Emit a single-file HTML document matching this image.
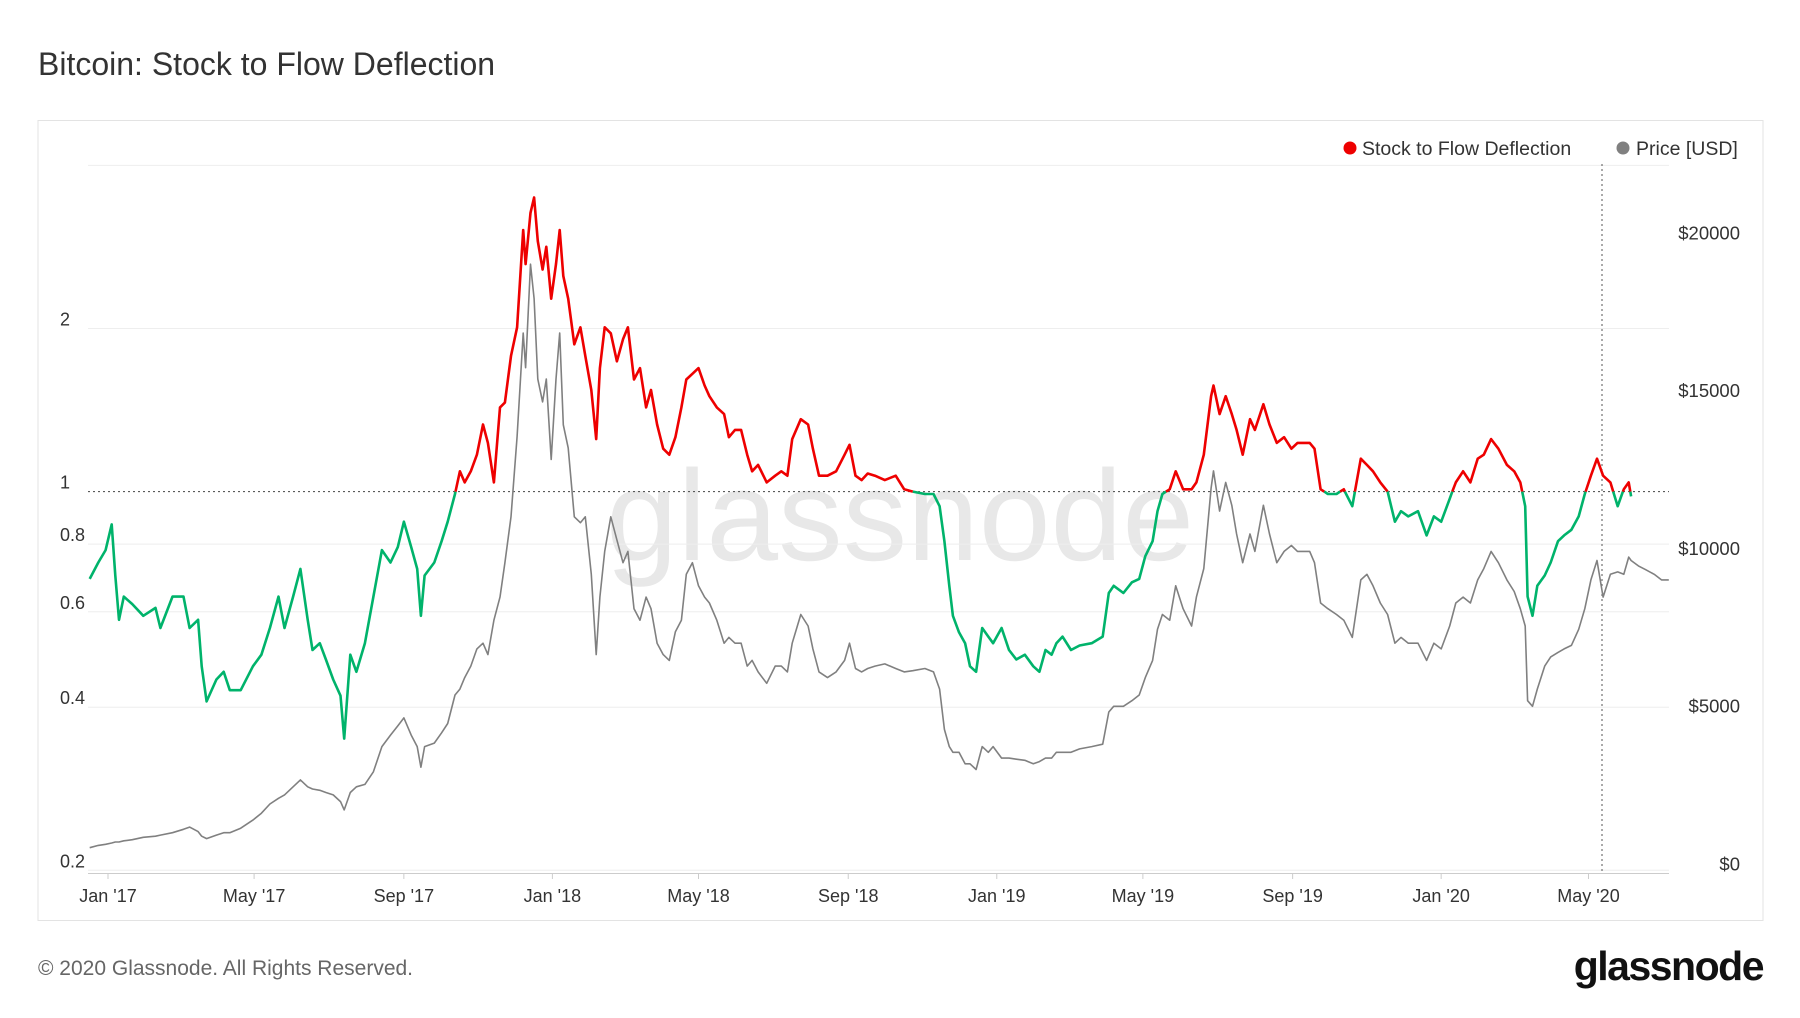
<!DOCTYPE html>
<html><head><meta charset="utf-8"><style>
body{margin:0;background:#fff;width:1800px;height:1013px;overflow:hidden;font-family:"Liberation Sans",sans-serif;}
</style></head><body>
<svg width="1800" height="1013" xmlns="http://www.w3.org/2000/svg">
<text x="38" y="75" font-size="32" fill="#333">Bitcoin: Stock to Flow Deflection</text>
<rect x="38" y="120.5" width="1725" height="800" fill="none" stroke="#e3e3e3"/>
<text x="900" y="560" font-size="129" fill="#e8e8e8" text-anchor="middle">glassnode</text>
<g id="grid"></g>
<g id="yl"></g>
<g id="yr"></g>
<g id="xa"></g>
<line x1="1602" y1="164" x2="1602" y2="873" stroke="#555" stroke-dasharray="2,3"/>
<g id="price"></g>
<g id="defl"></g>
<g>
<circle cx="1350" cy="148" r="6.5" fill="#ee0000"/>
<text x="1362" y="155" font-size="19.5" fill="#333">Stock to Flow Deflection</text>
<circle cx="1623" cy="148" r="6.5" fill="#808080"/>
<text x="1636" y="155" font-size="19.5" fill="#333">Price [USD]</text>
</g>
<text x="38" y="975" font-size="21" fill="#666">© 2020 Glassnode. All Rights Reserved.</text>
<text x="1763" y="980" font-size="41" font-weight="bold" fill="#111" text-anchor="end" letter-spacing="-1.5">glassnode</text>
</svg>
<script>
const days=[-15,-8,-2,3,6,9,13,20,29,39,43,53,62,67,74,77,81,89,95,100,109,119,126,133,140,145,152,158,164,168,174,179,185,191,194,199,204,211,218,225,232,238,243,249,254,257,260,268,274,279,285,289,293,298,303,308,312,317,322,326,331,336,341,343,347,350,353,357,360,364,368,371,374,378,383,388,392,397,401,404,408,413,418,423,427,432,437,442,446,451,456,461,466,471,475,480,485,490,494,500,506,510,515,520,525,529,534,541,548,553,558,562,569,575,579,584,591,598,605,609,614,619,624,630,638,647,654,661,671,678,683,687,691,694,699,704,708,713,718,723,727,734,740,746,753,760,765,770,775,779,784,791,798,808,817,822,826,834,841,847,852,858,862,866,872,877,883,890,894,900,906,908,913,918,923,927,932,938,942,949,954,960,966,972,977,987,991,996,1002,1009,1015,1022,1029,1034,1039,1045,1051,1057,1062,1068,1076,1083,1089,1095,1102,1107,1113,1119,1125,1130,1136,1142,1149,1155,1160,1164,1166,1170,1174,1180,1185,1191,1196,1202,1208,1213,1218,1223,1228,1234,1240,1245,1249,1251];
const deflection=[.69,.74,.78,.87,.70,.58,.64,.62,.59,.61,.56,.64,.64,.56,.58,.476,.41,.45,.465,.43,.43,.476,.50,.56,.64,.56,.64,.72,.58,.51,.525,.49,.45,.42,.35,.50,.465,.525,.64,.78,.74,.79,.88,.79,.72,.59,.70,.74,.81,.88,.99,1.09,1.04,1.09,1.17,1.33,1.23,1.04,1.43,1.46,1.78,2.01,3.04,2.63,3.27,3.49,2.90,2.57,2.83,2.27,2.63,3.04,2.50,2.27,1.87,2.01,1.78,1.54,1.25,1.69,2.01,1.96,1.74,1.91,2.01,1.61,1.69,1.43,1.54,1.33,1.20,1.17,1.26,1.43,1.61,1.65,1.69,1.57,1.50,1.43,1.39,1.26,1.30,1.30,1.17,1.09,1.12,1.04,1.07,1.09,1.07,1.25,1.36,1.33,1.20,1.07,1.07,1.09,1.17,1.22,1.07,1.05,1.08,1.07,1.05,1.07,1.01,1.0,.99,.99,.94,.81,.67,.59,.55,.525,.476,.465,.56,.54,.525,.56,.51,.49,.50,.476,.465,.51,.50,.525,.54,.51,.52,.525,.54,.65,.67,.65,.68,.69,.76,.81,.92,.99,1.01,1.09,1.01,1.01,1.04,1.17,1.50,1.57,1.39,1.50,1.39,1.30,1.17,1.36,1.30,1.45,1.33,1.23,1.26,1.20,1.23,1.23,1.20,1.01,.99,.99,1.01,.94,1.15,1.12,1.09,1.04,1.0,.88,.92,.90,.92,.83,.90,.88,.97,1.04,1.09,1.04,1.15,1.17,1.25,1.20,1.12,1.09,1.04,.94,.64,.59,.67,.70,.74,.81,.83,.85,.90,.99,1.07,1.15,1.07,1.04,.94,1.01,1.04,.98];
const price=[690,765,800,840,870,870,910,945,1020,1055,1090,1165,1275,1345,1200,1055,980,1090,1165,1165,1310,1565,1785,2075,2255,2365,2620,2840,2620,2550,2510,2440,2365,2150,1890,2440,2620,2695,3095,3895,4260,4550,4805,4260,3895,3240,3895,4005,4330,4625,5530,5715,6080,6445,6990,7170,6810,7900,8630,9720,11175,13720,17000,15900,19180,18090,15540,14815,15540,12995,15540,17000,14090,13360,11175,10990,11175,9355,6810,8630,10080,11175,10445,9720,10080,8265,7900,8630,8265,7170,6810,6625,7535,7900,9355,9720,8990,8630,8445,7900,7170,7355,7170,7170,6445,6625,6260,5900,6445,6445,6260,7170,8080,7715,6990,6260,6080,6260,6625,7170,6370,6260,6370,6445,6515,6370,6260,6300,6370,6260,5715,4440,3895,3715,3715,3350,3350,3170,3895,3715,3895,3530,3530,3495,3460,3350,3420,3530,3530,3715,3715,3715,3820,3895,3970,4990,5170,5170,5350,5530,6080,6625,7610,8080,7900,8990,8265,7715,8630,9535,12085,12630,11355,12265,11540,10630,9720,10630,10080,11540,10630,9720,10080,10265,10080,10080,9720,8445,8265,8080,7900,7355,9175,9355,8990,8445,8080,7170,7355,7170,7170,6625,7170,6990,7715,8445,8630,8445,9175,9535,10080,9720,9175,8810,8265,7715,5350,5170,5715,6445,6735,6880,6990,7100,7610,8265,9175,9790,8630,9355,9430,9355,9900,9790];
const tailDays=[1257,1263,1270,1276,1282];
const tailPrice=[9620,9500,9355,9175,9175];
const leftTicks=[0.2,0.4,0.6,0.8,1,2];
const rightTicks=[0,5000,10000,15000,20000];
const monthLabels=["Jan '17","May '17","Sep '17","Jan '18","May '18","Sep '18","Jan '19","May '19","Sep '19","Jan '20","May '20"];
const monthDays=[0,120,243,365,485,608,730,850,973,1095,1216];

const NS="http://www.w3.org/2000/svg";
const X=d=>108.0+d*1.2175;
const YL=v=>491.6-163.1*Math.log2(v);
const YR=p=>869.5-p*0.03156;
function mk(tag,attrs,parent){const e=document.createElementNS(NS,tag);for(const k in attrs)e.setAttribute(k,attrs[k]);parent.appendChild(e);return e;}
const grid=document.getElementById('grid'),yl=document.getElementById('yl'),yr=document.getElementById('yr'),xa=document.getElementById('xa');
[4].concat(leftTicks).forEach(v=>{
  const g=mk('line',{x1:88,x2:1669,y1:YL(v),y2:YL(v),stroke:v===1?'#444':'#eeeeee','stroke-dasharray':v===1?'2,3':'none'},grid);
  
  
});
leftTicks.forEach(v=>{
  const t=mk('text',{x:60,y:YL(v)-3,'font-size':18,fill:'#333'},yl);t.textContent=String(v);
  
  
});
rightTicks.forEach(v=>{
  const t=mk('text',{x:1740,y:YR(v)+1,'font-size':18.5,fill:'#333','text-anchor':'end'},yr);t.textContent='$'+v;
  
  
});
mk('line',{x1:88,x2:1669,y1:873.5,y2:873.5,stroke:'#ccc'},xa);
monthLabels.forEach((m,i)=>{
  const x=X(monthDays[i]);
  mk('line',{x1:x,x2:x,y1:873,y2:879,stroke:'#ccc'},xa);
  const t=mk('text',{x:x,y:902,'font-size':18,fill:'#333','text-anchor':'middle'},xa);t.textContent=m;
  
  
});
const pd=days.concat(tailDays),pv=price.concat(tailPrice);
const pl=mk('polyline',{points:pd.map((d,i)=>X(d).toFixed(1)+','+YR(pv[i]).toFixed(1)).join(' '),fill:'none',stroke:'#808080','stroke-width':1.6,'stroke-linejoin':'round'},document.getElementById('price'));


const dg=document.getElementById('defl');
let cur=null,pts=[];
function flush(){if(pts.length>1){const e=mk('polyline',{points:pts.map(p=>p[0].toFixed(1)+','+p[1].toFixed(1)).join(' '),fill:'none',stroke:cur?'#ee0000':'#00b36b','stroke-width':2.6,'stroke-linejoin':'round'},dg);

}}
for(let i=0;i<days.length;i++){
  const above=deflection[i]>1;const p=[X(days[i]),YL(deflection[i])];
  if(cur===null){cur=above;pts=[p];continue;}
  if(above!==cur){
    const a=Math.log2(deflection[i-1]),b=Math.log2(deflection[i]);const t=(0-a)/(b-a);
    const c=[X(days[i-1]+t*(days[i]-days[i-1])),YL(1)];
    pts.push(c);flush();cur=above;pts=[c,p];
  } else pts.push(p);
}
flush();
</script>
</body></html>
